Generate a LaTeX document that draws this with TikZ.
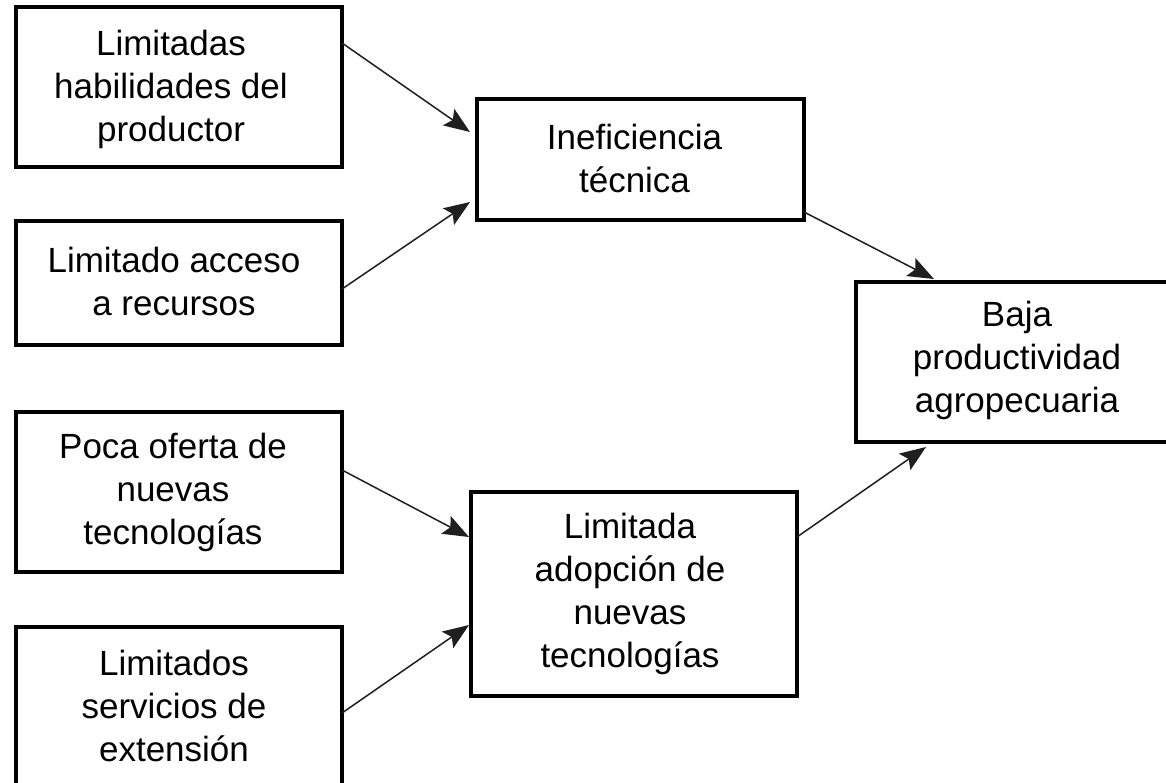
\documentclass[tikz,border=0pt]{standalone}
\usepackage{fontspec}
\setmainfont{Liberation Sans}
\usetikzlibrary{arrows.meta}
\begin{document}
\begin{tikzpicture}[x=1pt,y=-1pt,
  box/.style={draw=black, line width=3.2pt, fill=white, inner sep=0pt, outer sep=0pt},
  txt/.style={align=center, inner sep=0pt, font=\fontsize{35pt}{43pt}\selectfont, text=black},
  conn/.style={draw=black!88, line width=1.5pt, -{Stealth[length=26pt,width=20pt,inset=5pt]}}]
\useasboundingbox (0,0) rectangle (1166,783);
\clip (0,0) rectangle (1166,783);
\fill[white] (0,0) rectangle (1166,783);
% boxes
\node[box, minimum width=326pt, minimum height=160pt] (b1) at (179,87) {};
\node[box, minimum width=326pt, minimum height=124pt] (b2) at (179,283) {};
\node[box, minimum width=326pt, minimum height=160pt] (b3) at (179,492) {};
\node[box, minimum width=326pt, minimum height=158pt] (b4) at (179,706) {};
\node[box, minimum width=327pt, minimum height=121pt] (b5) at (640.5,159.5) {};
\node[box, minimum width=326pt, minimum height=204pt] (b6) at (634,594) {};
\node[box, minimum width=319pt, minimum height=160pt] (b7) at (1015.5,362) {};
% texts
\node[txt] (t1) at ([xshift=-8pt,yshift=-2pt]b1.center) {Limitadas\\habilidades del\\productor};
\node[txt] (t2) at ([xshift=-5pt,yshift=2pt]b2.center) {Limitado acceso\\a recursos};
\node[txt] (t3) at ([xshift=-6pt]b3.center) {Poca oferta de\\nuevas\\tecnologías};
\node[txt] (t4) at ([xshift=-5pt]b4.center) {Limitados\\servicios de\\extensión};
\node[txt] (t5) at ([xshift=-6pt,yshift=1pt]b5.center) {Ineficiencia\\técnica};
\node[txt] (t6) at ([xshift=-4pt]b6.center) {Limitada\\adopción de\\nuevas\\tecnologías};
\node[txt] (t7) at (1017,360) {Baja\\productividad\\agropecuaria};
% connectors
\draw[conn] ([yshift=-36pt]b1.north east) -- ([xshift=-7pt,yshift=-33pt]b5.north west);
\draw[conn] ([yshift=-68pt]b2.north east) -- ([xshift=-7pt,yshift=18pt]b5.south west);
\draw[conn] ([yshift=-58pt]b3.north east) -- ([xshift=-2pt,yshift=-45pt]b6.north west);
\draw[conn] ([yshift=-86pt]b4.north east) -- ([xshift=-2pt,yshift=-133pt]b6.north west);
\draw[conn] ([yshift=8pt]b5.south east) -- ([xshift=78pt,yshift=3pt]b7.north west);
\draw[conn] ([yshift=-45pt]b6.north east) -- ([xshift=70pt,yshift=-5pt]b7.south west);
\end{tikzpicture}
\end{document}
